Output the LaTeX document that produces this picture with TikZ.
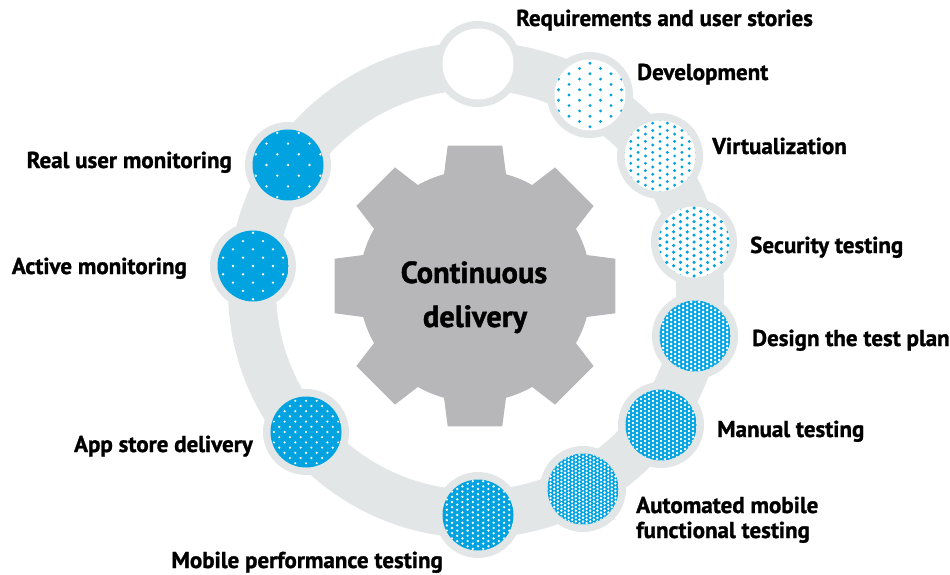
\documentclass[tikz,border=0pt]{standalone}
\usepackage{fontspec}
\setmainfont{PT Sans}[BoldFeatures={FakeBold=1.2}]
\definecolor{ringgray}{RGB}{227,230,230}
\definecolor{geargray}{RGB}{183,183,185}
\definecolor{hpcyan}{RGB}{0,163,224}
\tikzset{
  lbl/.style={font=\fontsize{23}{27}\selectfont\bfseries, inner sep=0pt, text=black},
  ctr/.style={font=\fontsize{30.5}{44}\selectfont\bfseries, inner sep=0pt, text=black},
  spot/.style={circle, minimum size=71pt, inner sep=0pt},
}
% #1 name, #2 x, #3 y, #4 bg, #5 fg, #6 row spacing, #7 in-row spacing, #8 dot radius
\newcommand\patcirc[8]{%
  \fill[ringgray] (#2,#3) circle[radius=43pt];
  \begin{scope}
    \clip (#2,#3) circle[radius=35.5pt];
    \fill[#4] (#2,#3) circle[radius=36pt];
    \pgfmathtruncatemacro\patNj{37/#6+1}
    \pgfmathtruncatemacro\patNjm{-\patNj}
    \pgfmathtruncatemacro\patNi{37/#7+2}
    \pgfmathtruncatemacro\patNim{-\patNi}
    \foreach \j in {\patNjm,...,\patNj}{
      \foreach \i in {\patNim,...,\patNi}{
        \fill[#5] ({#2+\i*#7+mod(\j,2)*#7/2},{#3+\j*#6}) circle[radius=#8pt];
      }}
  \end{scope}
  \node[spot] (#1) at (#2,#3) {};
}
\begin{document}
\begin{tikzpicture}[x=1pt,y=-1pt]
\useasboundingbox (0,0) rectangle (950,575);
% ring
\draw[ringgray, line width=48pt] (476,290) circle[radius=224pt];
% gear
\begin{scope}[shift={(475,286)}]
  \fill[geargray] (-15.5:116pt)
    \foreach \a in {0,45,...,315}{
      -- (\a-15.5:116pt) -- (\a-11:143pt) -- (\a+11:143pt) -- (\a+15.5:116pt)
      arc[start angle=\a+15.5, end angle=\a+29.5, radius=116pt]
    } -- cycle;
\end{scope}
\node[ctr, anchor=base] (c1) at (474,283) {Continuous};
\node[ctr, anchor=base] (c2) at (475,327) {delivery};
% spots
\fill[ringgray] (478,64) circle[radius=43pt];
\fill[white] (478,64) circle[radius=35.5pt];
\node[spot] (req) at (478,64) {};
\patcirc{dev}{590}{95}{white}{hpcyan}{5.3}{21}{1.6}
\patcirc{virt}{660}{156}{white}{hpcyan}{3.65}{14.6}{1.6}
\patcirc{sec}{694}{242}{white}{hpcyan}{3.4}{13.6}{1.75}
\patcirc{des}{695}{336}{hpcyan}{white}{2.0}{8}{1.5}
\patcirc{man}{661}{425}{hpcyan}{white}{2.0}{8}{1.32}
\patcirc{auto}{583}{489}{hpcyan}{white}{1.8}{7.2}{1.36}
\patcirc{mob}{478}{515}{hpcyan}{white}{2.6}{10.4}{1.3}
\patcirc{app}{306}{432}{hpcyan}{white}{5.2}{10.7}{1.2}
\patcirc{act}{253}{266}{hpcyan}{white}{8.3}{20}{1.3}
\patcirc{real}{288}{165}{hpcyan}{white}{10.7}{21.5}{1.3}
% labels
\node[lbl, anchor=base west] (lreq) at (516,26) {Requirements and user stories};
\node[lbl, anchor=base west] (ldev) at (637,80) {Development};
\node[lbl, anchor=base west] (lvirt) at (712,154) {Virtualization};
\node[lbl, anchor=base west] (lsec) at (750,253) {Security testing};
\node[lbl, anchor=base west] (ldes) at (752,346) {Design the test plan};
\node[lbl, anchor=base west] (lman) at (717,437) {Manual testing};
\node[lbl, anchor=base west] (lauto) at (636,513) {Automated mobile};
\node[lbl, anchor=base west] (lauto2) at (636,538) {functional testing};
\node[lbl, anchor=base east] (lreal) at (232,168) {Real user monitoring};
\node[lbl, anchor=base east] (lact) at (187,274) {Active monitoring};
\node[lbl, anchor=base east] (lapp) at (253,452) {App store delivery};
\node[lbl, anchor=base east] (lmob) at (443,568) {Mobile performance testing};
\end{tikzpicture}
\end{document}
